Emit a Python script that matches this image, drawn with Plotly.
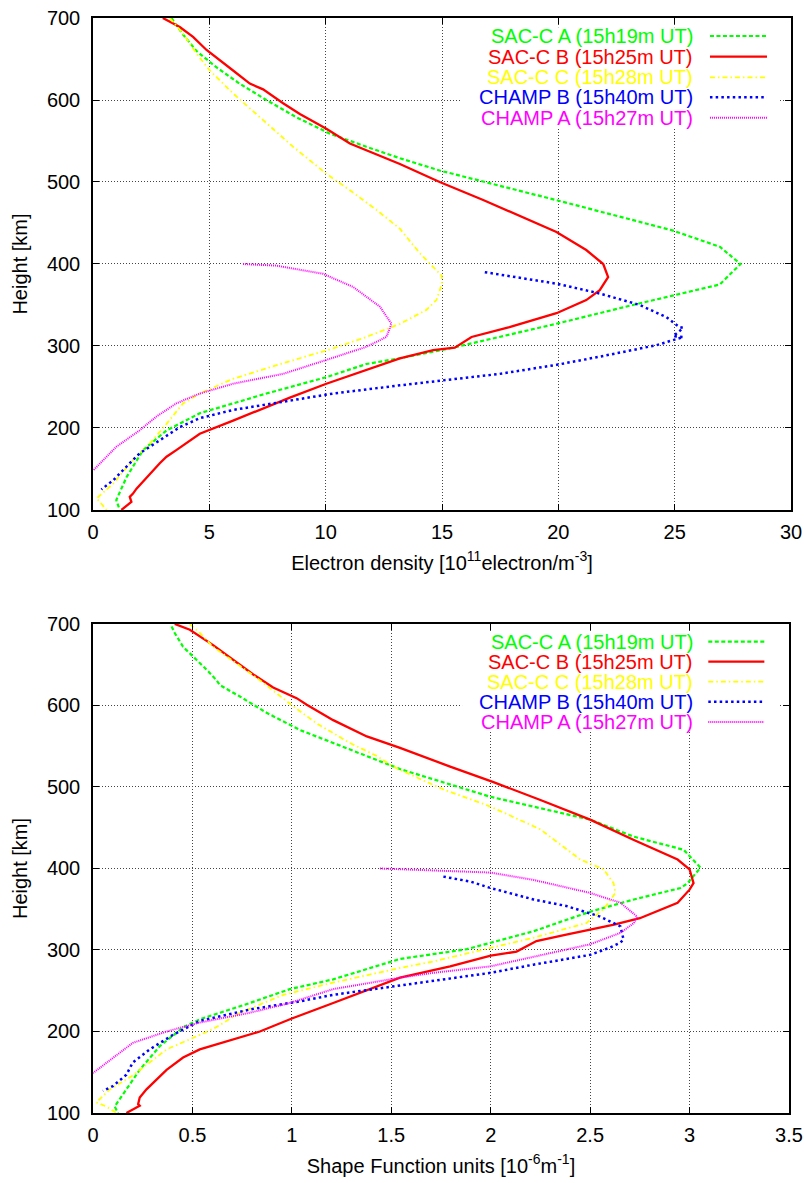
import plotly.graph_objects as go

# ---------------- data: top panel (electron density) ----------------
names = ["SAC-C A (15h19m UT)", "SAC-C B (15h25m UT)", "SAC-C C (15h28m UT)",
         "CHAMP B (15h40m UT)", "CHAMP A (15h27m UT)"]
colors = ["#00ff00", "#ff0000", "#ffff00", "#0000ff", "#ff00ff"]

sacA_ne_x = [3.37, 3.84, 4.44, 5.3, 6.3, 7.45, 8.74, 10.18, 11.75, 13.19, 14.9, 19.9, 24.9, 26.94, 27.83,
             26.94, 23.2, 19.9, 15.48, 13.18, 11.75, 10.03, 7.45, 4.59, 3.16, 2.15, 1.44, 1.0, 1.15]
sacA_ne_y = [700, 681, 660, 640, 620, 600, 579, 559, 543, 529, 514, 478, 441, 421, 400,
             375, 350, 327, 298, 285, 278, 262, 242, 218, 197, 173, 140, 112, 100]

sacB_ne_x = [3.0, 3.73, 4.3, 4.88, 6.02, 6.74, 7.31, 8.17, 8.89, 10.03, 11.04, 13.19, 14.9, 16.77, 19.92,
             21.2, 21.93, 22.14, 21.78, 21.2, 19.92, 17.9, 16.27, 15.55, 14.62, 13.19, 10.03, 8.46, 6.02,
             4.59, 3.58, 3.16, 2.87, 2.44, 1.87, 1.72, 1.58, 1.65, 1.22]
sacB_ne_y = [700, 689, 677, 661, 636, 620, 613, 596, 583, 565, 547, 522, 500, 478, 439,
             417, 400, 384, 368, 356, 340, 323, 311, 298, 295, 285, 254, 237, 209,
             193, 173, 165, 157, 144, 126, 120, 116, 110, 100]

sacC_ne_x = [3.3, 3.87, 4.44, 5.02, 6.02, 7.31, 8.6, 10.03, 11.04, 12.18, 13.19, 14.05, 14.62, 14.98, 15.0,
             14.76, 14.33, 13.19, 11.75, 10.32, 8.17, 6.02, 4.59, 3.87, 3.16, 2.44, 1.72, 0.86, 0.15, 0.29, 0.58]
sacC_ne_y = [700, 681, 657, 636, 608, 575, 543, 510, 490, 466, 443, 413, 396, 386, 376,
             356, 344, 327, 311, 297, 279, 260, 242, 230, 205, 181, 161, 132, 114, 110, 100]

champB_ne_x = [16.84, 18.2, 19.92, 21.78, 23.5, 24.65, 25.2, 25.37, 24.94, 25.37, 24.65, 24.22, 21.78, 19.92,
               17.48, 14.9, 13.19, 10.32, 8.17, 6.02, 4.59, 3.73, 2.87, 2.0, 1.58, 0.86, 0.36]
champB_ne_y = [390, 384, 376, 364, 350, 335, 323, 322, 312, 311, 305, 301, 287, 277,
               266, 258, 252, 242, 232, 222, 212, 201, 185, 169, 157, 136, 125]

champA_ne_x = [6.45, 7.88, 9.89, 11.18, 12.33, 12.83, 12.61, 11.75, 10.03, 8.17, 6.02, 4.59, 3.58, 2.73,
               2.0, 1.0, 0.0]
champA_ne_y = [400, 398, 388, 372, 348, 327, 311, 299, 283, 266, 254, 242, 230, 214, 197, 177, 148]

# ---------------- data: bottom panel (shape function) ----------------
sacA_sf_x = [0.395, 0.411, 0.453, 0.504, 0.571, 0.621, 0.638, 0.739, 0.873, 1.04, 1.208, 1.377, 1.544, 1.998,
             2.5, 2.72, 2.97, 3.055, 2.99, 2.954, 2.72, 2.5, 2.215, 1.88, 1.544, 1.208, 0.99, 0.789, 0.537,
             0.453, 0.336, 0.235, 0.168, 0.109, 0.126]
sacA_sf_y = [697, 689, 672, 660, 644, 631, 625, 611, 591, 570, 554, 538, 522, 488,
             460, 439, 423, 401, 382, 376, 362, 347, 323, 301, 289, 264, 252, 235, 215,
             205, 182, 153, 129, 108, 100]

sacB_sf_x = [0.411, 0.487, 0.604, 0.705, 0.806, 0.906, 0.99, 1.024, 1.075, 1.208, 1.377, 1.544, 1.796, 2.014,
             2.25, 2.5, 2.72, 2.94, 3.0, 3.02, 3.0, 2.94, 2.75, 2.62, 2.38, 2.23, 2.13, 2.0, 1.796, 1.544,
             1.208, 1.0, 0.839, 0.705, 0.537, 0.453, 0.37, 0.269, 0.235, 0.227, 0.235, 0.168]
sacB_sf_y = [700, 693, 674, 656, 638, 622, 613, 609, 601, 582, 562, 548, 525, 506,
             484, 460, 435, 411, 399, 382, 374, 358, 339, 331, 319, 311, 298, 293, 280, 266,
             235, 216, 200, 190, 178, 168, 153, 129, 119, 111, 109, 100]

sacC_sf_x = [0.487, 0.537, 0.604, 0.705, 0.823, 0.923, 1.007, 1.125, 1.292, 1.427, 1.51, 1.544, 1.762, 1.998,
             2.25, 2.45, 2.568, 2.618, 2.627, 2.568, 2.48, 2.215, 2.0, 1.712, 1.544, 1.208, 0.957, 0.739,
             0.604, 0.37, 0.2, 0.084, 0.034, 0.017, 0.067, 0.118]
sacC_sf_y = [700, 689, 672, 654, 634, 615, 599, 578, 554, 538, 525, 521, 497, 476,
             448, 411, 399, 382, 370, 350, 333, 315, 303, 286, 278, 260, 245, 223,
             203, 178, 146, 129, 117, 113, 108, 100]

champB_sf_x = [1.762, 1.897, 2.0, 2.215, 2.38, 2.55, 2.652, 2.668, 2.652, 2.6, 2.5, 2.215, 2.0, 1.712, 1.544,
               1.208, 1.04, 0.789, 0.537, 0.403, 0.285, 0.2, 0.168, 0.1, 0.05]
champB_sf_y = [390, 384, 376, 362, 354, 341, 329, 313, 309, 303, 294, 282, 272, 262, 256,
               245, 237, 227, 213, 196, 178, 162, 147, 133, 127]

champA_sf_x = [1.443, 1.544, 1.998, 2.215, 2.5, 2.652, 2.736, 2.72, 2.652, 2.5, 2.215, 2.0, 1.712, 1.544,
               1.208, 0.99, 0.789, 0.537, 0.37, 0.2, 0.0]
champA_sf_y = [400, 399, 395, 386, 370, 358, 341, 333, 321, 307, 292, 280, 272, 266,
               252, 235, 223, 211, 200, 186, 149]

x_ticks_top = [0, 5, 10, 15, 20, 25, 30]
x_ticks_bot = [0, 0.5, 1, 1.5, 2, 2.5, 3, 3.5]
x_ticks_bot_text = ["0", "0.5", "1", "1.5", "2", "2.5", "3", "3.5"]
y_ticks = [100, 200, 300, 400, 500, 600, 700]

# ---------------- styles ----------------
dashes = ["4px,2.5px", "solid", "5px,3px,1.5px,3px", "2.5px,3.2px", "1px,1px"]
widths = [2.2, 2.3, 1.8, 2.5, 2.0]

top_series = [(sacA_ne_x, sacA_ne_y), (sacB_ne_x, sacB_ne_y), (sacC_ne_x, sacC_ne_y),
              (champB_ne_x, champB_ne_y), (champA_ne_x, champA_ne_y)]
bot_series = [(sacA_sf_x, sacA_sf_y), (sacB_sf_x, sacB_sf_y), (sacC_sf_x, sacC_sf_y),
              (champB_sf_x, champB_sf_y), (champA_sf_x, champA_sf_y)]

FONT = "Liberation Sans, Arial, sans-serif"
fig = go.Figure()

for i, (xs, ys) in enumerate(top_series):
    fig.add_trace(go.Scatter(x=xs, y=ys, mode="lines", name=names[i], showlegend=False,
                             line=dict(color=colors[i], width=widths[i], dash=dashes[i]),
                             xaxis="x", yaxis="y"))
for i, (xs, ys) in enumerate(bot_series):
    fig.add_trace(go.Scatter(x=xs, y=ys, mode="lines", name=names[i], showlegend=False,
                             line=dict(color=colors[i], width=widths[i], dash=dashes[i]),
                             xaxis="x2", yaxis="y2"))

ax_common = dict(showline=True, linecolor="black", linewidth=1.5, mirror="allticks",
                 ticks="inside", ticklen=6, tickcolor="black", tickwidth=1, automargin=False,
                 showgrid=True, gridcolor="#444444", gridwidth=1, griddash="1px,2px",
                 zeroline=False, tickfont=dict(family=FONT, size=20, color="black"))

fig.update_layout(
    width=804, height=1183,
    margin=dict(l=93, r=13, t=18, b=70, autoexpand=False),
    paper_bgcolor="white", plot_bgcolor="white",
    font=dict(family=FONT, size=20, color="black"),
    xaxis=dict(domain=[0, 1], range=[0, 30], tickvals=x_ticks_top, anchor="y", ticklabelstandoff=3,
               title=dict(text="Electron density [10<sup>11</sup>electron/m<sup>-3</sup>]",
                          font=dict(family=FONT, size=20), standoff=14), **ax_common),
    yaxis=dict(domain=[0.5507, 1.0], range=[100, 700], tickvals=y_ticks, anchor="x", ticklabelstandoff=7,
               title=dict(text="Height [km]", font=dict(family=FONT, size=20), standoff=14), **ax_common),
    xaxis2=dict(domain=[0, 0.9971], range=[0, 3.5], tickvals=x_ticks_bot, ticktext=x_ticks_bot_text,
                anchor="y2", ticklabelstandoff=3,
                title=dict(text="Shape Function units [10<sup>-6</sup>m<sup>-1</sup>]",
                           font=dict(family=FONT, size=20), standoff=14), **ax_common),
    yaxis2=dict(domain=[0, 0.4466], range=[100, 700], tickvals=y_ticks, anchor="x2", ticklabelstandoff=7,
                title=dict(text="Height [km]", font=dict(family=FONT, size=20), standoff=14), **ax_common),
)

# ---------------- legends (text left, sample right, as gnuplot) ----------------
def add_legend(xr, yr, xa, ya, plot_top_px, plot_h_px, plot_left_px, plot_w_px, rows_px, text_right_px,
               line_l_px, line_r_px, box):
    # white backing box, in the panel's own data coordinates
    (xmin, xmax), (ymin, ymax) = xa, ya
    bx0, by0, bx1, by1 = box
    def px2x(p):
        return xmin + (p - plot_left_px) / plot_w_px * (xmax - xmin)
    def px2y(p):
        return ymax - (p - plot_top_px) / plot_h_px * (ymax - ymin)
    fig.add_shape(type="rect", xref=xr.split()[0], yref=yr.split()[0], layer="between",
                  x0=px2x(bx0), x1=px2x(bx1), y0=px2y(by1), y1=px2y(by0),
                  fillcolor="white", line=dict(width=0))
    for i, ry in enumerate(rows_px):
        yd = 1 - (ry - plot_top_px) / plot_h_px
        fig.add_annotation(xref=xr, yref=yr, x=(text_right_px - plot_left_px) / plot_w_px, y=yd,
                           text=names[i], showarrow=False, xanchor="right", yanchor="middle",
                           font=dict(family=FONT, size=20, color=colors[i]))
        fig.add_shape(type="line", xref=xr, yref=yr,
                      x0=(line_l_px - plot_left_px) / plot_w_px, x1=(line_r_px - plot_left_px) / plot_w_px,
                      y0=yd, y1=yd, line=dict(color=colors[i], width=widths[i], dash=dashes[i]))

add_legend("x domain", "y domain", (0, 30), (100, 700), 17.7, 492.0, 93.3, 697.7,
           [35.7, 56.3, 77.0, 97.0, 117.5], 695, 710, 767, (462, 27, 780, 128))
add_legend("x2 domain", "y2 domain", (0, 3.5), (100, 700), 624.0, 489.3, 93.3, 695.3,
           [641.7, 661.7, 681.7, 701.7, 722.0], 695, 708, 764, (462, 631, 778, 732))

fig.write_html("out.html")
